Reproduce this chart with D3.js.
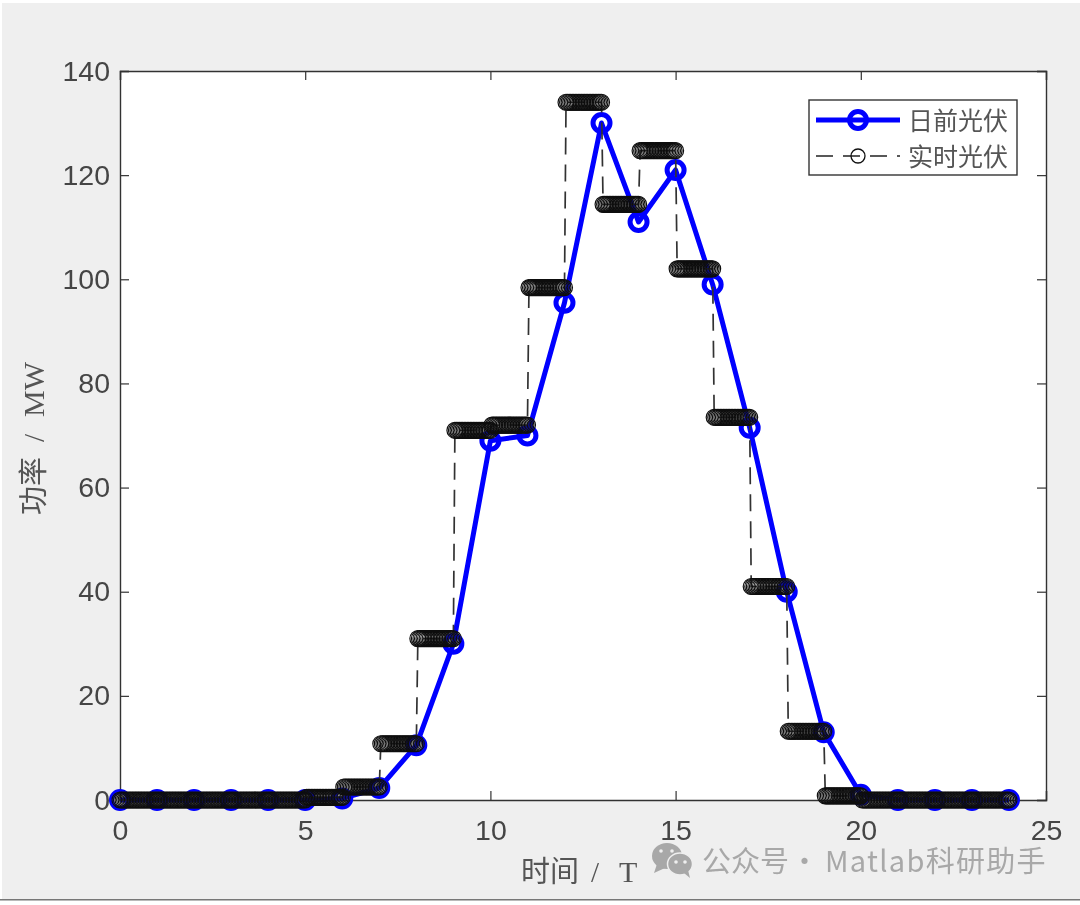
<!DOCTYPE html>
<html><head><meta charset="utf-8">
<script src="https://cdn.jsdelivr.net/npm/d3@7"></script>
<style>html,body{margin:0;padding:0;background:#fff}svg{display:block}</style>
</head><body><svg id="c" width="1080" height="905"></svg>
<script>
const hours = d3.range(0, 25);
const dayAhead = [0,0,0,0,0,0,0.3,2.3,10.5,30,69,70,95.5,130,111,121,99,71.5,40,13,1,0,0,0,0];
const realTimeHourly = [0,0,0,0,0,0.5,2.5,10.8,31,71,72,98.4,134,114.4,124.7,102,73.5,41,13.2,0.8,0,0,0,0];
const xTicks = [0,5,10,15,20,25];
const yTicks = [0,20,40,60,80,100,120,140];
const seriesNames = ["日前光伏","实时光伏"];
const xTitle = "时间 / T", yTitle = "功率 / MW", mark = "公众号 · Matlab科研助手";

const realTime = [[0, realTimeHourly[0]]];
realTimeHourly.forEach((v, h) => d3.range(1, 25).forEach(k => realTime.push([h + k / 24, v])));

const root = d3.select("#c");
const defs = root.append("defs");
defs.append("filter").attr("id","soft").attr("x",0).attr("y",0).attr("width",1).attr("height",1)
  .append("feGaussianBlur").attr("stdDeviation",0.55);
const svg = root.append("g").attr("filter","url(#soft)");
const L = 120, R = 1046, T = 71, B = 800;
const x = d3.scaleLinear().domain([0, 25]).range([L, R]);
const y = d3.scaleLinear().domain([0, 140]).range([B, T]);
const SANS = "'Liberation Sans',Arial,sans-serif";
const CJK = "'Liberation Serif','Noto Sans CJK SC',serif";

svg.append("rect").attr("x",0).attr("y",0).attr("width",1080).attr("height",905).attr("fill","#fff");
svg.append("rect").attr("x",2).attr("y",3).attr("width",1078).attr("height",896).attr("fill","#efefef");
svg.append("rect").attr("x",0).attr("y",899).attr("width",1080).attr("height",1.5).attr("fill","#777");
svg.append("rect").attr("x",L).attr("y",T).attr("width",R-L).attr("height",B-T).attr("fill","#fff");

const frame = svg.append("g");
const styleAxis = (g) => {
  g.selectAll("path.domain").attr("stroke","#333").attr("stroke-width",1.4);
  g.selectAll("line").attr("stroke","#333").attr("stroke-width",1.2);
  g.selectAll("text").attr("fill","#444").style("font-family",SANS).style("font-size","28.5px");
};
frame.append("g").attr("transform",`translate(0,${B})`)
  .call(d3.axisBottom(x).tickValues(xTicks).tickSize(-9).tickPadding(20)).call(styleAxis);
frame.append("g").attr("transform",`translate(${L},0)`)
  .call(d3.axisLeft(y).tickValues(yTicks).tickSize(-9).tickPadding(10)).call(styleAxis);
frame.append("g").attr("transform",`translate(0,${T})`)
  .call(d3.axisTop(x).tickValues(xTicks).tickSize(-9).tickFormat("")).call(styleAxis);
frame.append("g").attr("transform",`translate(${R},0)`)
  .call(d3.axisRight(y).tickValues(yTicks).tickSize(-9).tickFormat("")).call(styleAxis);

const line = d3.line().x(d => x(d[0])).y(d => y(d[1]));
const plot = svg.append("g");
const daPts = hours.map((h,i) => [h, dayAhead[i]]);
plot.append("path").attr("d",line(daPts)).attr("fill","none").attr("stroke","#0000ff").attr("stroke-width",5).attr("stroke-linejoin","round");
plot.selectAll("circle.da").data(daPts).join("circle").attr("class","da")
  .attr("cx",d=>x(d[0])).attr("cy",d=>y(d[1])).attr("r",8.5).attr("fill","none").attr("stroke","#0000ff").attr("stroke-width",5);
plot.append("path").attr("d",line(realTime)).attr("fill","none").attr("stroke","#333").attr("stroke-width",1.7).attr("stroke-dasharray","17 10");
plot.selectAll("circle.rt").data(realTime).join("circle").attr("class","rt")
  .attr("cx",d=>x(d[0])).attr("cy",d=>y(d[1])).attr("r",8).attr("fill","none").attr("stroke","#111").attr("stroke-width",1.2);

const [xa, xb] = xTitle.split(" / ");
const xt = svg.append("text").attr("x",521).attr("y",882).attr("fill","#555").style("font-family",CJK).style("font-size","29px");
xt.append("tspan").text(xa);
xt.append("tspan").attr("dx",12).text("/");
xt.append("tspan").attr("dx",20).style("font-size","30px").text(xb);
const [ya, yb] = yTitle.split(" / ");
const yt = svg.append("text").attr("transform","translate(44,515) rotate(-90)").attr("fill","#555").style("font-family",CJK).style("font-size","29px");
yt.append("tspan").text(ya);
yt.append("tspan").attr("dx",15).text("/");
yt.append("tspan").attr("dx",17).style("font-size","30px").text(yb);

const lg = svg.append("g");
lg.append("rect").attr("x",809).attr("y",100).attr("width",208).attr("height",75).attr("fill","#fff").attr("stroke","#333").attr("stroke-width",1.4);
lg.append("line").attr("x1",816).attr("x2",900).attr("y1",120).attr("y2",120).attr("stroke","#0000ff").attr("stroke-width",5);
lg.append("circle").attr("cx",858).attr("cy",120).attr("r",8.5).attr("fill","none").attr("stroke","#0000ff").attr("stroke-width",5);
lg.append("line").attr("x1",816).attr("x2",900).attr("y1",156).attr("y2",156).attr("stroke","#222").attr("stroke-width",1.4).attr("stroke-dasharray","17 10");
lg.append("circle").attr("cx",858).attr("cy",156).attr("r",7).attr("fill","none").attr("stroke","#111").attr("stroke-width",1.3);
seriesNames.forEach((s,i)=>lg.append("text").attr("x",908).attr("y",[130,166][i]).attr("fill","#555").style("font-family",CJK).style("font-size","25px").text(s));

const wm = svg.append("g").attr("fill","#a8a8a8");
wm.append("ellipse").attr("cx",667).attr("cy",856).attr("rx",15).attr("ry",13);
wm.append("path").attr("d","M657 864 L654 873 L665 868 Z");
wm.append("ellipse").attr("cx",680).attr("cy",864).attr("rx",12.5).attr("ry",11).attr("stroke","#efefef").attr("stroke-width",1.5);
wm.append("path").attr("d","M684 873 L690 878 L688 870 Z");
[[661,851],[672,851],[676,862],[685,862]].forEach(([a,b])=>wm.append("circle").attr("cx",a).attr("cy",b).attr("r",1.8).attr("fill","#efefef"));
const [ma, mb] = mark.split(" · ");
const mt = svg.append("text").attr("y",872).attr("fill","#a8a8a8").style("font-family","'Noto Sans CJK SC','Noto Sans',sans-serif").style("font-size","29px");
mt.append("tspan").attr("x",702).text(ma);
mt.append("tspan").attr("x",790).text("·");
mt.append("tspan").attr("x",825).style("letter-spacing","1.3px").text(mb);
</script></body></html>
